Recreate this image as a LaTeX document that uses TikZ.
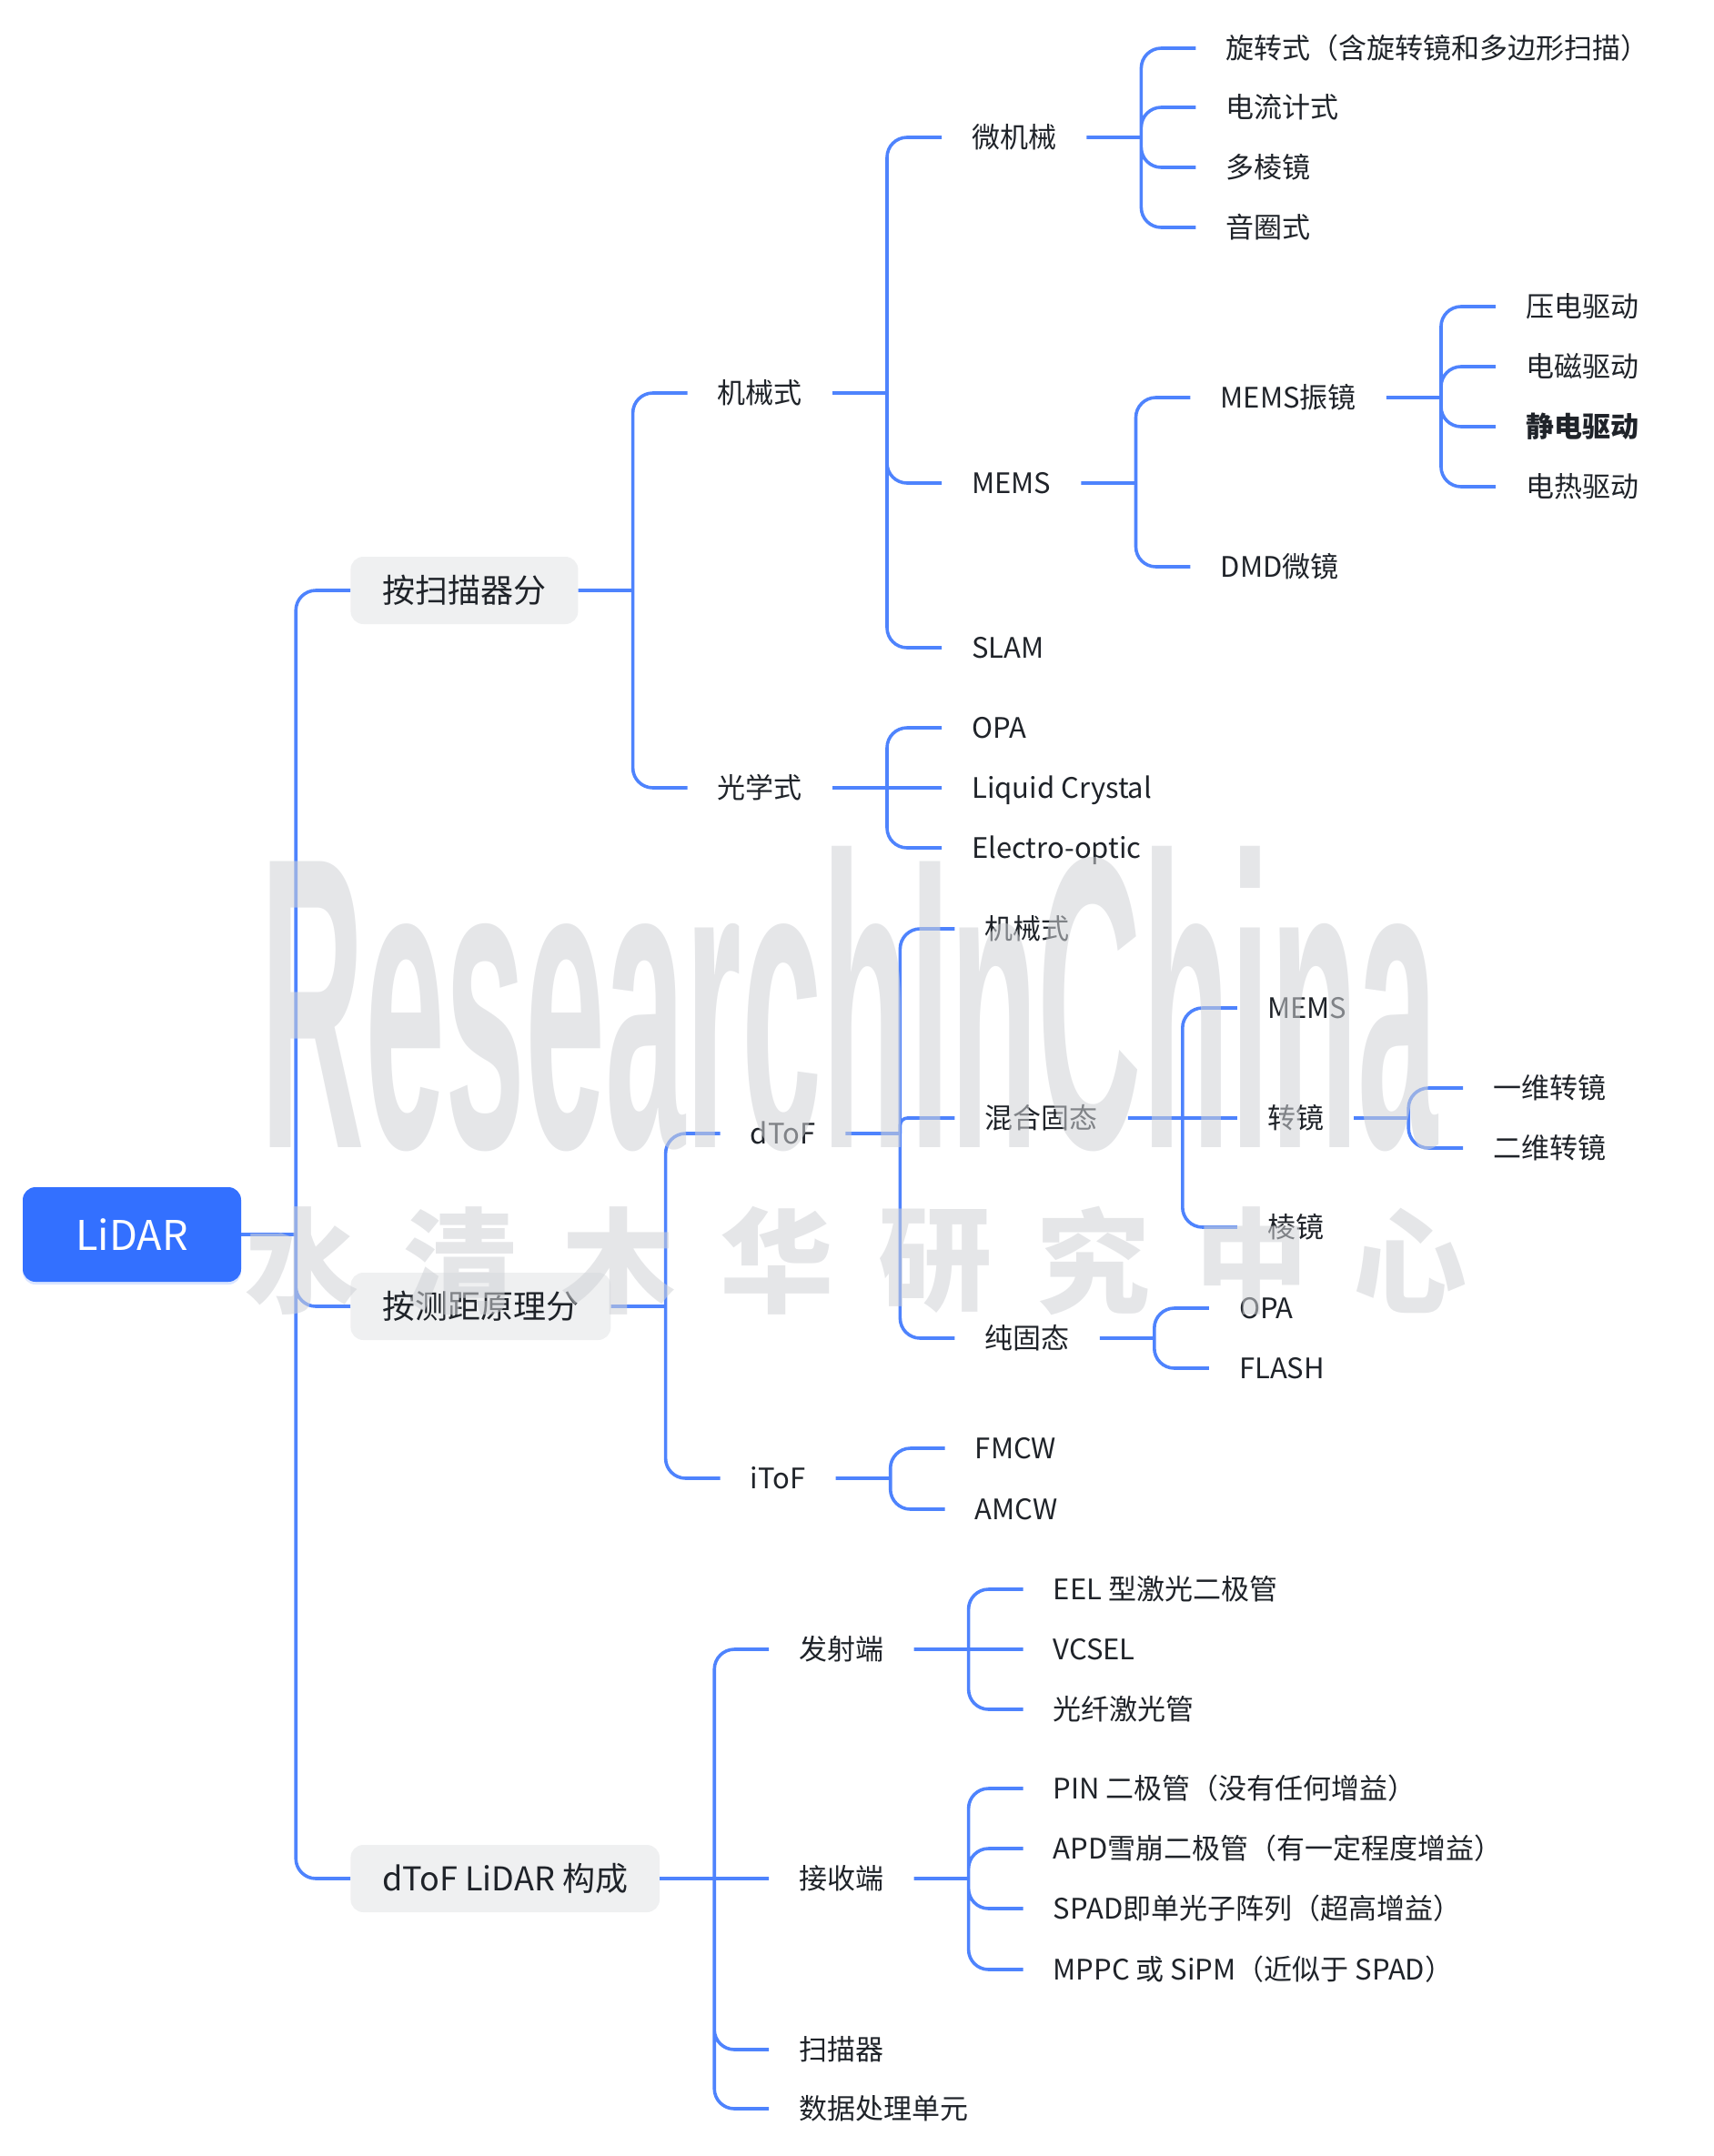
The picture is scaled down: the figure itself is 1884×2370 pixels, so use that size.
\documentclass[tikz,border=0pt]{standalone}
\usepackage{fontspec}
\setmainfont{Noto Sans CJK SC}
\newfontfamily\markfont{Liberation Sans}
\usetikzlibrary{positioning,calc,shadows}
\definecolor{MapBlue}{HTML}{3370FF}
\definecolor{MapLine}{HTML}{4E83FD}
\definecolor{MapGrey}{HTML}{EFF0F1}
\definecolor{MapText}{HTML}{1F2329}
\definecolor{MapMark}{HTML}{D0D2D6}

\tikzset{
  rootbox/.style={rounded corners=14pt, fill=MapBlue, text=white,
    minimum width=240pt, minimum height=104pt,
    font=\fontsize{45}{54}\selectfont, text height=34pt, text depth=0pt,
    drop shadow={opacity=.18, shadow xshift=0pt, shadow yshift=-3pt, fill=MapBlue}},
  groupbox/.style={anchor=west, xshift=120pt, rounded corners=14pt, fill=MapGrey,
    text=MapText, inner xsep=35pt, minimum height=74pt,
    font=\fontsize{36}{43}\selectfont, text height=27.4pt, text depth=0pt},
  leaf/.style={anchor=west, xshift=120pt, inner xsep=33pt, inner ysep=0pt,
    text=MapText, font=\fontsize{31}{37}\selectfont, text height=23.6pt, text depth=0pt},
  link/.style={draw=MapLine, line width=3.6pt, rounded corners=22pt},
}

\begin{document}
\begin{tikzpicture}[x=1pt, y=-1pt]
  \useasboundingbox (0,0) rectangle (1884,2370);

  % root and the three ways of sorting
  \node[rootbox] (lidar) at (145,1357) {LiDAR};
  \node[groupbox] (scan) at (lidar.east |- 0,649) {按扫描器分};
  \node[groupbox] (range) at (lidar.east |- 0,1436) {按测距原理分};
  \node[groupbox] (parts) at (lidar.east |- 0,2065) {dToF LiDAR 构成};

  % by scanner
  \node[leaf] (mech) at (scan.east |- 0,432) {机械式};
  \node[leaf] (optic) at (scan.east |- 0,866) {光学式};
  \node[leaf] (micro) at (mech.east |- 0,151) {微机械};
  \node[leaf] (mems) at (mech.east |- 0,531) {MEMS};
  \node[leaf] (slam) at (mech.east |- 0,712) {SLAM};
  \node[leaf] (rot) at (micro.east |- 0,53) {旋转式（含旋转镜和多边形扫描）};
  \node[leaf] (galvo) at (micro.east |- 0,118) {电流计式};
  \node[leaf] (poly) at (micro.east |- 0,184) {多棱镜};
  \node[leaf] (coil) at (micro.east |- 0,250) {音圈式};
  \node[leaf] (memsmir) at (mems.east |- 0,437) {MEMS振镜};
  \node[leaf] (dmd) at (mems.east |- 0,623) {DMD微镜};
  \node[leaf] (piezo) at (memsmir.east |- 0,337) {压电驱动};
  \node[leaf] (magn) at (memsmir.east |- 0,403) {电磁驱动};
  \node[leaf, font=\fontsize{31}{37}\selectfont\bfseries] (elec) at (memsmir.east |- 0,469) {静电驱动};
  \node[leaf] (therm) at (memsmir.east |- 0,535) {电热驱动};
  \node[leaf] (opa) at (optic.east |- 0,800) {OPA};
  \node[leaf] (lc) at (optic.east |- 0,866) {Liquid Crystal};
  \node[leaf] (eo) at (optic.east |- 0,932) {Electro-optic};

  % by ranging principle
  \node[leaf] (dtof) at (range.east |- 0,1246) {dToF};
  \node[leaf] (itof) at (range.east |- 0,1625) {iToF};
  \node[leaf] (dmech) at (dtof.east |- 0,1021) {机械式};
  \node[leaf] (hybrid) at (dtof.east |- 0,1229) {混合固态};
  \node[leaf] (solid) at (dtof.east |- 0,1471) {纯固态};
  \node[leaf] (hmems) at (hybrid.east |- 0,1108) {MEMS};
  \node[leaf] (turn) at (hybrid.east |- 0,1229) {转镜};
  \node[leaf] (prism) at (hybrid.east |- 0,1349) {棱镜};
  \node[leaf] (oned) at (turn.east |- 0,1196) {一维转镜};
  \node[leaf] (twod) at (turn.east |- 0,1262) {二维转镜};
  \node[leaf] (sopa) at (solid.east |- 0,1438) {OPA};
  \node[leaf] (flash) at (solid.east |- 0,1504) {FLASH};
  \node[leaf] (fmcw) at (itof.east |- 0,1592) {FMCW};
  \node[leaf] (amcw) at (itof.east |- 0,1659) {AMCW};

  % dToF parts
  \node[leaf] (tx) at (parts.east |- 0,1813) {发射端};
  \node[leaf] (rx) at (parts.east |- 0,2065) {接收端};
  \node[leaf] (scanner) at (parts.east |- 0,2253) {扫描器};
  \node[leaf] (proc) at (parts.east |- 0,2318) {数据处理单元};
  \node[leaf] (eel) at (tx.east |- 0,1747) {EEL 型激光二极管};
  \node[leaf] (vcsel) at (tx.east |- 0,1813) {VCSEL};
  \node[leaf] (fiber) at (tx.east |- 0,1879) {光纤激光管};
  \node[leaf] (pin) at (rx.east |- 0,1966) {PIN 二极管（没有任何增益）};
  \node[leaf] (apd) at (rx.east |- 0,2032) {APD雪崩二极管（有一定程度增益）};
  \node[leaf] (spad) at (rx.east |- 0,2098) {SPAD即单光子阵列（超高增益）};
  \node[leaf] (mppc) at (rx.east |- 0,2165) {MPPC 或 SiPM（近似于 SPAD）};

  % branches
  \draw[link] (lidar.east) -- ++(60pt,0) coordinate (lidar-s)
    (lidar-s) |- (scan.west) (lidar-s) |- (range.west) (lidar-s) |- (parts.west);
  \draw[link] (scan.east) -- ++(60pt,0) coordinate (scan-s)
    (scan-s) |- (mech.west) (scan-s) |- (optic.west);
  \draw[link] (mech.east) -- ++(60pt,0) coordinate (mech-s)
    (mech-s) |- (micro.west) (mech-s) |- (mems.west) (mech-s) |- (slam.west);
  \draw[link] (micro.east) -- ++(60pt,0) coordinate (micro-s)
    (micro-s) |- (rot.west) (micro-s) |- (galvo.west)
    (micro-s) |- (poly.west) (micro-s) |- (coil.west);
  \draw[link] (mems.east) -- ++(60pt,0) coordinate (mems-s)
    (mems-s) |- (memsmir.west) (mems-s) |- (dmd.west);
  \draw[link] (memsmir.east) -- ++(60pt,0) coordinate (memsmir-s)
    (memsmir-s) |- (piezo.west) (memsmir-s) |- (magn.west)
    (memsmir-s) |- (elec.west) (memsmir-s) |- (therm.west);
  \draw[link] (optic.east) -- ++(60pt,0) coordinate (optic-s)
    (optic-s) |- (opa.west) (optic-s) -- (lc.west) (optic-s) |- (eo.west);
  \draw[link] (range.east) -- ++(60pt,0) coordinate (range-s)
    (range-s) |- (dtof.west) (range-s) |- (itof.west);
  \draw[link] (dtof.east) -- ++(60pt,0) coordinate (dtof-s)
    (dtof-s) |- (dmech.west) (dtof-s) |- (solid.west);
  \draw[link, rounded corners=8pt] (dtof-s) |- (hybrid.west);
  \draw[link] (hybrid.east) -- ++(60pt,0) coordinate (hybrid-s)
    (hybrid-s) |- (hmems.west) (hybrid-s) -- (turn.west) (hybrid-s) |- (prism.west);
  \draw[link] (turn.east) -- ++(60pt,0) coordinate (turn-s)
    (turn-s) |- (oned.west) (turn-s) |- (twod.west);
  \draw[link] (solid.east) -- ++(60pt,0) coordinate (solid-s)
    (solid-s) |- (sopa.west) (solid-s) |- (flash.west);
  \draw[link] (itof.east) -- ++(60pt,0) coordinate (itof-s)
    (itof-s) |- (fmcw.west) (itof-s) |- (amcw.west);
  \draw[link] (parts.east) -- ++(60pt,0) coordinate (parts-s)
    (parts-s) |- (tx.west) (parts-s) -- (rx.west)
    (parts-s) |- (scanner.west) (parts-s) |- (proc.west);
  \draw[link] (tx.east) -- ++(60pt,0) coordinate (tx-s)
    (tx-s) |- (eel.west) (tx-s) -- (vcsel.west) (tx-s) |- (fiber.west);
  \draw[link] (rx.east) -- ++(60pt,0) coordinate (rx-s)
    (rx-s) |- (pin.west) (rx-s) |- (apd.west)
    (rx-s) |- (spad.west) (rx-s) |- (mppc.west);

  % watermark
  \node[inner sep=0pt, text=MapMark, opacity=.55, font=\markfont\bfseries] (mark)
    at (934,1098) {\resizebox{1293pt}{330pt}{ResearchInChina}};
  \foreach \ch [count=\i] in {水,清,木,华,研,究,中,心}
    \node[inner sep=0pt, text=MapMark, opacity=.55,
      font=\fontsize{125}{125}\selectfont\bfseries] (mark-\i)
      at (332+174*\i-174,1386) {\ch};
\end{tikzpicture}
\end{document}
